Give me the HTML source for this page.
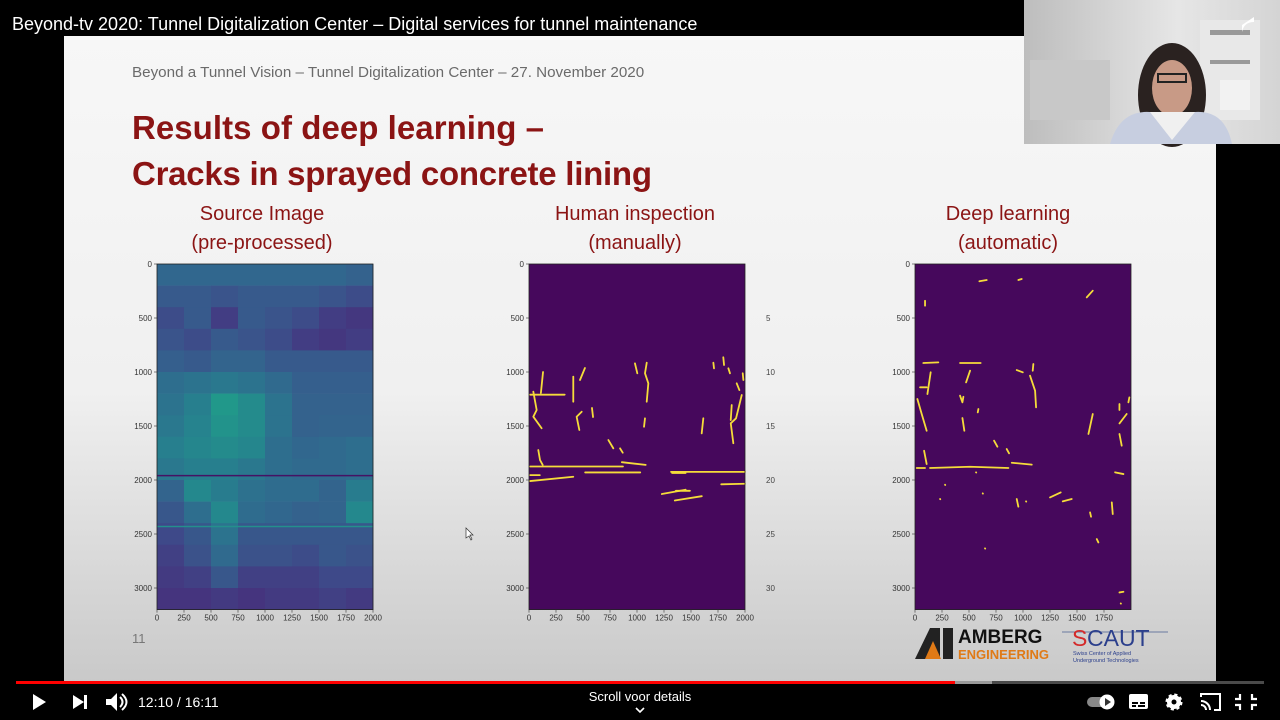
<!DOCTYPE html>
<html><head><meta charset="utf-8"><style>
html,body{margin:0;padding:0;background:#000;width:1280px;height:720px;overflow:hidden}
svg{display:block}
text{font-family:"Liberation Sans",sans-serif}
</style></head><body>
<svg id="root" width="1280" height="720" viewBox="0 0 1280 720">
<defs>
<linearGradient id="slideGrad" x1="0" y1="0" x2="0" y2="1">
<stop offset="0" stop-color="#f7f7f7"/><stop offset="0.55" stop-color="#f0f0f0"/><stop offset="1" stop-color="#c9c9c9"/>
</linearGradient>
<linearGradient id="camGrad" x1="0" y1="0" x2="1" y2="0">
<stop offset="0" stop-color="#bdbdbd"/><stop offset="0.6" stop-color="#e6e6e6"/><stop offset="1" stop-color="#d4d4d4"/>
</linearGradient>
</defs>
<rect width="1280" height="720" fill="#000"/>
<rect x="64" y="36" width="1152" height="646" fill="url(#slideGrad)"/>
<text x="12" y="30" fill="#fff" font-size="18">Beyond-tv 2020: Tunnel Digitalization Center – Digital services for tunnel maintenance</text>
<text x="132" y="77" fill="#6a6a6a" font-size="15.2">Beyond a Tunnel Vision – Tunnel Digitalization Center – 27. November 2020</text>
<text x="132" y="139" fill="#8b1414" font-size="33" font-weight="bold" textLength="412">Results of deep learning –</text>
<text x="132" y="185" fill="#8b1414" font-size="33" font-weight="bold" textLength="520">Cracks in sprayed concrete lining</text>
<g fill="#8b1414" font-size="20" text-anchor="middle">
<text x="262" y="220">Source Image</text>
<text x="262" y="249">(pre-processed)</text>
<text x="635" y="220">Human inspection</text>
<text x="635" y="249">(manually)</text>
<text x="1008" y="220">Deep learning</text>
<text x="1008" y="249">(automatic)</text>
</g>
<g id="charts"></g>
<g fill="#444" font-size="8">
<text x="766" y="321">5</text><text x="766" y="375">10</text><text x="766" y="429">15</text><text x="766" y="483">20</text><text x="766" y="537">25</text><text x="766" y="591">30</text>
</g>
<text x="132" y="643" fill="#777" font-size="13">11</text>
<path d="M466 528 L466 538 L469 536 L471 540 L472 539 L470 535 L473 535 Z" fill="#fff" stroke="#333" stroke-width="0.7"/>
<g>
<polygon points="915,659 930,628 940,628 940,659" fill="#222"/>
<polygon points="943,628 953,628 953,659 943,659" fill="#222"/>
<polygon points="925,659 933,641 941,659" fill="#e07a16"/>
<text x="958" y="643" font-size="19" font-weight="bold" fill="#111">AMBERG</text>
<text x="958" y="659" font-size="13" font-weight="bold" fill="#e07a16">ENGINEERING</text>
</g>
<g>
<line x1="1062" y1="632" x2="1168" y2="632" stroke="#6a7aa0" stroke-width="1"/>
<text x="1072" y="646" font-size="23" fill="#d42a2a">S</text>
<text x="1087" y="646" font-size="23" fill="#2b3f8c">CAUT</text>
<text x="1073" y="655" font-size="5.5" fill="#2b3f8c">Swiss Center of Applied</text>
<text x="1073" y="662" font-size="5.5" fill="#2b3f8c">Underground Technologies</text>
</g>
<g>
<rect x="1024" y="0" width="256" height="144" fill="url(#camGrad)"/>
<rect x="1200" y="20" width="60" height="100" fill="#e8e8e8"/>
<rect x="1210" y="30" width="40" height="5" fill="#999"/>
<rect x="1210" y="60" width="40" height="4" fill="#999"/>
<rect x="1220" y="80" width="30" height="30" fill="#f2f2f2"/>
<rect x="1030" y="60" width="80" height="60" fill="#c8c8c8"/>
<ellipse cx="1172" cy="95" rx="34" ry="52" fill="#2a2220"/>
<ellipse cx="1172" cy="88" rx="20" ry="28" fill="#c89a86"/>
<rect x="1158" y="74" width="28" height="8" fill="none" stroke="#222" stroke-width="2"/>
<path d="M1110 144 Q1120 110 1150 112 L1195 112 Q1225 110 1232 144 Z" fill="#c7cee0"/>
<path d="M1150 112 L1172 140 L1195 112 Z" fill="#f0f0f0"/>
<path d="M1242 25 l12 -8 v5 q-10 0 -12 10 z" fill="#fff"/>
</g>
<g>
<rect x="16" y="681" width="1248" height="3" fill="#4a4a4a"/>
<rect x="16" y="681" width="976" height="3" fill="#9a9a9a"/>
<rect x="16" y="681" width="939" height="3" fill="#f00"/>
</g>
<polygon points="33,694 33,710 46,702" fill="#fff"/>
<g><polygon points="73,695 73,709 84,702" fill="#fff"/><rect x="84" y="695" width="3" height="14" fill="#fff"/></g>
<g><polygon points="106,699 111,699 117,693 117,711 111,705 106,705" fill="#fff"/><path d="M120 697 q5 5 0 10 M122 694 q9 8 0 16" stroke="#fff" stroke-width="2" fill="none"/></g>
<text x="138" y="707" fill="#fff" font-size="14">12:10 / 16:11</text>
<text x="640" y="701" fill="#fff" font-size="13" text-anchor="middle">Scroll voor details</text>
<path d="M636 708 l4 4 l4 -4" stroke="#fff" stroke-width="1.6" fill="none"/>
<g><rect x="1087" y="697" width="26" height="10" rx="5" fill="#888"/><circle cx="1107" cy="702" r="7.5" fill="#fff"/><polygon points="1105,698 1105,706 1111,702" fill="#333"/></g>
<g><rect x="1129" y="694" width="19" height="15" rx="2" fill="#fff"/><rect x="1132" y="702" width="6" height="2" fill="#000"/><rect x="1140" y="702" width="5" height="2" fill="#000"/><rect x="1132" y="705" width="4" height="2" fill="#000"/><rect x="1138" y="705" width="7" height="2" fill="#000"/></g>
<g><circle cx="1174" cy="702" r="7" fill="#fff" stroke="#fff" stroke-width="3" stroke-dasharray="3 2.5"/><circle cx="1174" cy="702" r="2.5" fill="#000"/></g>
<g stroke="#fff" stroke-width="2" fill="none"><path d="M1201 697 v-3 h19 v16 h-6"/><path d="M1201 701 a9 9 0 0 1 9 9 M1201 705 a5 5 0 0 1 5 5"/></g>
<g stroke="#fff" stroke-width="2.2" fill="none"><path d="M1240 694 v5 h-5 M1252 694 v5 h5 M1240 710 v-5 h-5 M1252 710 v-5 h5"/></g>
</svg>
<script>
// ---- data ----
const yTicks = [0,500,1000,1500,2000,2500,3000];
const xTicksFull = [0,250,500,750,1000,1250,1500,1750,2000];
const xTicksDeep = [0,250,500,750,1000,1250,1500,1750];
// source-image intensity grid: 16 rows (200 px each) x 8 cols (250 px each)
const heatRows = [
[0.33,0.33,0.33,0.33,0.33,0.33,0.33,0.31],
[0.28,0.28,0.26,0.28,0.28,0.28,0.26,0.23],
[0.23,0.28,0.18,0.28,0.26,0.23,0.18,0.16],
[0.26,0.23,0.28,0.26,0.23,0.18,0.16,0.18],
[0.30,0.28,0.32,0.32,0.28,0.28,0.28,0.28],
[0.36,0.38,0.40,0.38,0.34,0.30,0.30,0.30],
[0.38,0.43,0.53,0.48,0.38,0.31,0.31,0.31],
[0.40,0.45,0.51,0.48,0.38,0.31,0.32,0.32],
[0.43,0.46,0.48,0.46,0.36,0.33,0.34,0.36],
[0.40,0.43,0.43,0.40,0.36,0.34,0.34,0.36],
[0.32,0.47,0.42,0.37,0.35,0.35,0.32,0.42],
[0.27,0.36,0.47,0.35,0.33,0.31,0.32,0.47],
[0.22,0.27,0.38,0.27,0.27,0.27,0.27,0.27],
[0.19,0.25,0.34,0.25,0.25,0.23,0.27,0.25],
[0.17,0.19,0.27,0.19,0.19,0.19,0.22,0.22],
[0.15,0.15,0.17,0.15,0.17,0.17,0.19,0.17]];
const streakY = [1960, 2430];
const streakVal = [0.05, 0.5];
const humanCracks = [
[[10,1875],[870,1875]],[[860,1835],[1080,1860]],[[520,1930],[1030,1930]],[[1325,1935],[1450,1935]],
[[1315,1925],[2000,1925]],[[10,2010],[410,1970]],[[10,1955],[100,1955]],[[1780,2040],[2000,2035]],
[[1230,2130],[1450,2090]],[[1360,2100],[1490,2100]],[[1350,2190],[1600,2150]],
[[130,1000],[110,1195]],[[10,1210],[330,1210]],[[40,1182],[71,1352],[40,1414],[117,1521]],
[[410,1043],[410,1275]],[[518,963],[472,1074]],[[583,1333],[593,1417]],[[488,1368],[441,1414],[466,1537]],
[[981,920],[1003,1012]],[[1090,914],[1074,1012],[1105,1105],[1090,1275]],[[1074,1429],[1065,1507]],
[[735,1630],[781,1707]],[[843,1707],[868,1747]],[[86,1722],[102,1815],[127,1861]],
[[1614,1429],[1599,1568]],[[1707,914],[1713,966]],[[1799,864],[1806,935]],[[1846,966],[1861,1012]],
[[1970,1213],[1917,1429],[1868,1475],[1892,1660]],[[1877,1306],[1868,1445]],[[1923,1105],[1948,1167]],
[[1979,1012],[1985,1074]]];
const deepCracks = [
[[596,160],[664,148]],[[957,148],[988,139]],[[1590,309],[1646,247]],[[93,340],[93,386]],
[[77,917],[216,911]],[[417,917],[608,917]],[[145,1003],[115,1204]],[[47,1142],[108,1142]],
[[510,988],[473,1096]],[[942,982],[998,1003]],[[1096,926],[1090,988]],[[1065,1034],[1112,1173],[1121,1327]],
[[417,1219],[439,1281],[448,1229]],[[22,1250],[62,1389],[108,1544]],[[587,1343],[581,1374]],
[[439,1426],[457,1544]],[[84,1729],[108,1852]],[[16,1889],[93,1889]],[[139,1889],[510,1877],[865,1889]],
[[896,1840],[1081,1858]],[[732,1636],[763,1692]],[[849,1713],[871,1753]],[[942,2176],[957,2247]],
[[1250,2161],[1349,2115]],[[1368,2198],[1451,2176]],[[1646,1389],[1606,1574]],[[1893,1297],[1893,1352]],
[[1893,1476],[1960,1389]],[[1893,1574],[1914,1682]],[[1853,1929],[1930,1945]],[[1822,2207],[1831,2315]],
[[1985,1235],[1976,1281]],[[1621,2300],[1630,2340]],[[1683,2547],[1698,2578]],
[[648,2633],[650,2635]],[[278,2044],[280,2046]],[[627,2124],[629,2126]],[[232,2176],[234,2178]],
[[1028,2198],[1030,2200]],[[1893,3041],[1930,3035]],[[1905,3143],[1907,3145]],[[565,1929],[567,1931]]];

// ---- drawing ----
const NS='http://www.w3.org/2000/svg';
const charts=document.getElementById('charts');
const TOP=264, H=345.6, W=216, XMAX=2000, YMAX=3200;
function mk(tag,attrs,parent){const e=document.createElementNS(NS,tag);for(const k in attrs)e.setAttribute(k,attrs[k]);parent.appendChild(e);return e;}
function viridis(t){
  const s=[[68,1,84],[72,40,120],[62,74,137],[49,104,142],[38,130,142],[31,158,137],[53,183,121],[109,205,89],[180,222,44],[253,231,37]];
  t=Math.max(0,Math.min(1,t))*(s.length-1);const i=Math.min(s.length-2,Math.floor(t)),f=t-i;
  const c=s[i].map((v,k)=>Math.round(v+(s[i+1][k]-v)*f));return 'rgb('+c.join(',')+')';
}
function makePanel(x0,name,xt){
  const g=mk('g',{},charts);
  
  
  const sx=v=>x0+v/XMAX*W, sy=v=>TOP+v/YMAX*H;
  return {g,sx,sy,x0,xt};
}
function axes(p){
  const ax=mk('g',{fill:'#333','font-size':'8'},p.g);
  
  
  mk('rect',{x:p.x0,y:TOP,width:W,height:H,fill:'none',stroke:'#222','stroke-width':'0.8'},ax);
  yTicks.forEach(v=>{const y=p.sy(v);mk('line',{x1:p.x0-3,x2:p.x0,y1:y,y2:y,stroke:'#333','stroke-width':'0.6'},ax);
    const t=mk('text',{x:p.x0-5,y:y+3,'text-anchor':'end'},ax);t.textContent=v;});
  p.xt.forEach(v=>{const x=p.sx(v);mk('line',{x1:x,x2:x,y1:TOP+H,y2:TOP+H+3,stroke:'#333','stroke-width':'0.6'},ax);
    const t=mk('text',{x:x,y:TOP+H+11,'text-anchor':'middle'},ax);t.textContent=v;});
}
function cracks(p,list){
  mk('rect',{x:p.x0,y:TOP,width:W,height:H,fill:'#46085c'},p.g);
  list.forEach(c=>{
    const pl=mk('polyline',{points:c.map(q=>p.sx(q[0])+','+p.sy(q[1])).join(' '),fill:'none',stroke:'#f5dc3a','stroke-width':'1.8','stroke-linecap':'round','stroke-linejoin':'round'},p.g);
    
    
  });
  axes(p);
}
// source heatmap
const p1=makePanel(157,'source-image-chart',xTicksFull);
const cw=XMAX/heatRows[0].length, ch=YMAX/heatRows.length;
heatRows.forEach((row,r)=>row.forEach((v,c)=>{
  const cell=mk('rect',{x:p1.sx(c*cw),y:p1.sy(r*ch),width:p1.sx((c+1)*cw)-p1.sx(c*cw)+0.3,height:p1.sy((r+1)*ch)-p1.sy(r*ch)+0.3,fill:viridis(v)},p1.g);
  
  
}));
streakY.forEach((y,i)=>{
  const l=mk('line',{x1:p1.sx(0),x2:p1.sx(XMAX),y1:p1.sy(y),y2:p1.sy(y),stroke:viridis(streakVal[i]),'stroke-width':'1.5'},p1.g);
  
  
});
axes(p1);
cracks(makePanel(529,'human-inspection-chart',xTicksFull),humanCracks);
cracks(makePanel(915,'deep-learning-chart',xTicksDeep),deepCracks);
</script>
</body></html>
